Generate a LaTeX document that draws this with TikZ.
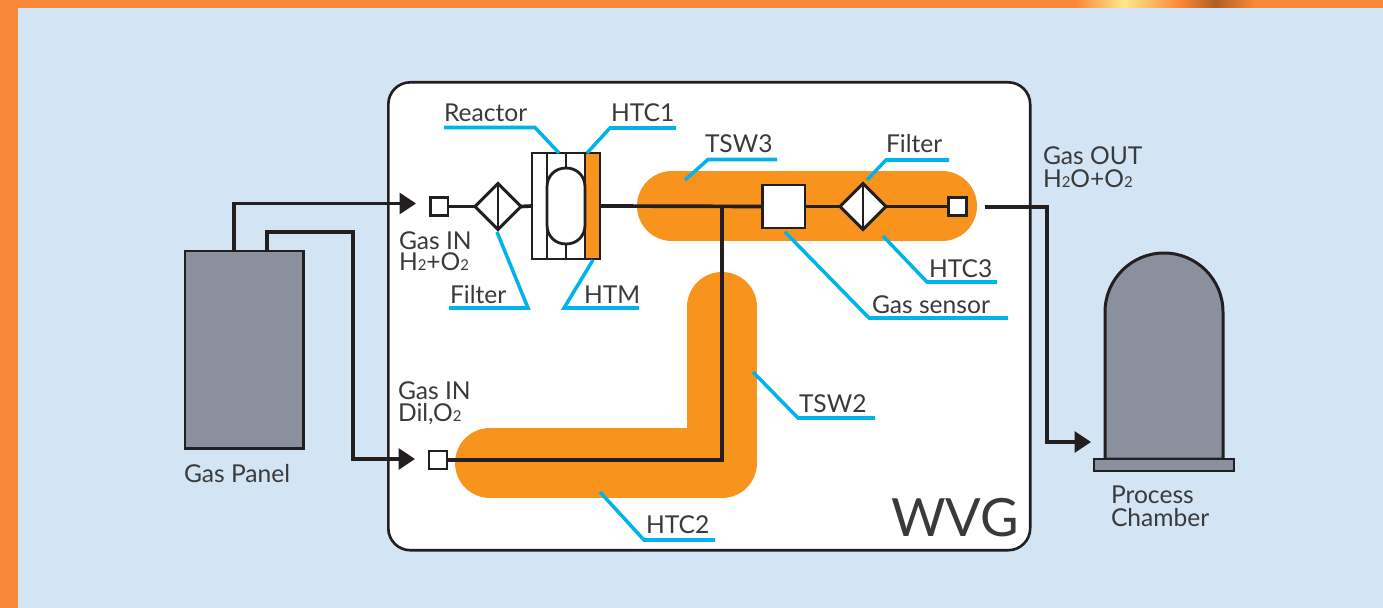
\documentclass[tikz,border=0pt]{standalone}
\usepackage{fontspec}
\setmainfont{Lato}
\usetikzlibrary{shapes.geometric,arrows.meta}
\definecolor{frameor}{HTML}{F98838}
\definecolor{panelbl}{HTML}{D3E4F4}
\definecolor{heat}{HTML}{F8931D}
\definecolor{ink}{HTML}{231F20}
\definecolor{steel}{HTML}{8A909E}
\definecolor{lead}{HTML}{00B4EA}
\definecolor{txt}{HTML}{3A3A3C}
\newcommand{\sbs}[1]{{\fontsize{8.5pt}{8.5pt}\selectfont #1}}
\tikzset{
  x=0.02cm,y=-0.02cm,
  pipe/.style={draw=ink,line width=2.1pt},
  flow/.style={pipe,-{Triangle[length=15pt*0.62,width=19pt*0.62]}},
  thin box/.style={draw=ink,line width=1.6pt},
  port/.style={draw=ink,line width=1.7pt,fill=white,minimum size=0.36cm,inner sep=0pt,outer sep=0pt},
  filterbox/.style={diamond,draw=ink,line width=1.7pt,fill=white,minimum size=0.92cm,inner sep=0pt,outer sep=0pt},
  sensorbox/.style={draw=ink,line width=1.7pt,fill=white,minimum size=0.86cm,inner sep=0pt,outer sep=0pt},
  leader/.style={draw=lead,line width=2pt},
  heater/.style={line width=1.4cm,draw=heat,line cap=round,line join=round},
  lbl/.style={anchor=base west,inner sep=0pt,outer sep=0pt,text=txt,font=\fontsize{14pt}{14pt}\selectfont},
}
\begin{document}
\begin{tikzpicture}
\useasboundingbox (0,0) rectangle (1383,608);
% frame
\fill[frameor] (0,0) rectangle (1383,608);
\shade[left color=frameor,right color=frameor!40!yellow!50!white] (1075,0) rectangle (1124,8);
\shade[right color=frameor,left color=frameor!40!yellow!50!white] (1124,0) rectangle (1180,8);
\shade[left color=frameor,right color=frameor!70!black] (1180,0) rectangle (1215,8);
\shade[right color=frameor,left color=frameor!70!black] (1215,0) rectangle (1255,8);
\fill[panelbl] (18,8) rectangle (1383,608);
% WVG box
\node[draw=ink,line width=1.5pt,fill=white,rounded corners=0.44cm,minimum width=12.84cm,minimum height=9.36cm,inner sep=0pt,anchor=north west] (wvg) at (387,81) {};
% heaters
\draw[heater] (672,206) -- (942,206);
\draw[heater] (722,307) -- (722,463) -- (490,463);
% named points
\coordinate (j) at (722,207);
\coordinate (jb) at (722,460);
% gas panel
\node[draw=ink,line width=1.7pt,fill=steel,minimum width=2.38cm,minimum height=3.96cm,inner sep=0pt,outer sep=0pt,anchor=north west] (panel) at (185,251) {};
\coordinate (p1) at (234,251);
\coordinate (p2) at (267,251);
\coordinate (t1) at (416,203.5);
\coordinate (t2) at (415,459);
\coordinate (c1) at (234,203.5);
\coordinate (c2a) at (267,232);
\coordinate (c2b) at (353,232);
\coordinate (c2c) at (353,459);
\draw[flow,line join=miter] (p1) -- (c1) -- (t1);
\draw[flow,line join=miter] (p2) -- (c2a) -- (c2b) -- (c2c) -- (t2);
% upper line
\node[port] (in1) at (439,206.5) {};
\node[filterbox] (f1) at (498,206.5) {};
\draw[thin box] (f1.north) -- (f1.south);
% reactor
\node[draw=ink,line width=1.6pt,fill=white,minimum width=1.36cm,minimum height=2.12cm,inner sep=0pt,outer sep=0pt,anchor=north west] (reactor) at (532,153) {};
\fill[heat] (585,153) rectangle (600,259);
\draw[thin box] (532,153) rectangle (600,259);
\draw[thin box] (547,153) -- (547,259);
\draw[thin box] (585,153) -- (585,259);
\draw[thin box] (566,153) -- (566,168);
\draw[thin box] (566,244) -- (566,259);
\draw[thin box] (547,187) .. controls (547,176) and (555,168) .. (566,168) .. controls (577,168) and (585,176) .. (585,187) -- (585,225) .. controls (585,236) and (577,244) .. (566,244) .. controls (555,244) and (547,236) .. (547,225) -- cycle;
\draw[pipe] (in1.east) -- (f1.west);
\draw[pipe] (f1.east) -- (reactor.west);
\node[sensorbox] (sensor) at (783.5,206.5) {};
\node[filterbox] (f2) at (863,206.5) {};
\draw[thin box] (f2.north) -- (f2.south);
\node[port] (out1) at (957,206.5) {};
\draw[pipe] (reactor.east) -- (sensor.west);
\draw[pipe] (sensor.east) -- (f2.west);
\draw[pipe] (f2.east) -- (out1.west);
% lower line
\node[port] (in2) at (438,460) {};
\draw[pipe,line join=miter] (in2.east) -- (jb) -- (j);
% output
\coordinate (o0) at (985,207);
\coordinate (o1) at (1047,207);
\coordinate (o2) at (1047,442);
\coordinate (o3) at (1091,442);
\draw[flow,line join=miter] (o0) -- (o1) -- (o2) -- (o3);
% chamber
\draw[draw=ink,line width=1.7pt,fill=steel] (1105,459) -- (1105,312) arc[start angle=180,end angle=0,x radius=59,y radius=-59] -- (1223,459) -- cycle;
\draw[draw=ink,line width=1.5pt,fill=steel] (1094,459) rectangle (1234,471);
% leaders
\draw[leader] (444,127.5) -- (535,127.5) -- (559,153);
\draw[leader] (676,128) -- (610,128) -- (587,153);
\draw[leader] (449,308) -- (528,308) -- (497,232);
\draw[leader] (639,308) -- (564,308) -- (593,260);
\draw[leader] (777,159.5) -- (708,159.5) -- (685,180);
\draw[leader] (949,160) -- (886,160) -- (867,180);
\draw[leader] (997,282) -- (927,282) -- (883,236);
\draw[leader] (1008,318) -- (869,318) -- (785,232);
\draw[leader] (875,418) -- (798,418) -- (753,372);
\draw[leader] (715,540) -- (644,540) -- (600,492);
% labels
\node[lbl] (l1) at (444,122) {Reactor};
\node[lbl] (l2) at (611,122) {HTC1};
\node[lbl] (l3) at (450,303) {Filter};
\node[lbl] (l4) at (584,303) {HTM};
\node[lbl] (l5) at (705,153) {TSW3};
\node[lbl] (l6) at (886,153) {Filter};
\node[lbl] (l7) at (929,277) {HTC3};
\node[lbl] (l8) at (872,313) {Gas sensor};
\node[lbl] (l9) at (799,412) {TSW2};
\node[lbl] (l10) at (646,533) {HTC2};
\node[lbl] (g1) at (399,249) {Gas IN};
\node[lbl] (g2) at (399,270) {H\sbs{2}+O\sbs{2}};
\node[lbl] (g3) at (398,399) {Gas IN};
\node[lbl] (g4) at (398,421) {Dil,O\sbs{2}};
\node[lbl] (g5) at (1043,165) {Gas OUT};
\node[lbl] (g6) at (1043,187) {H\sbs{2}O+O\sbs{2}};
\node[lbl] (g7) at (184,482) {Gas Panel};
\node[lbl] (g8) at (1111,503) {Process};
\node[lbl] (g9) at (1111,526) {Chamber};
\node[lbl,font=\fontsize{30pt}{30pt}\selectfont] (g10) at (891,536) {WVG};
\end{tikzpicture}
\end{document}
